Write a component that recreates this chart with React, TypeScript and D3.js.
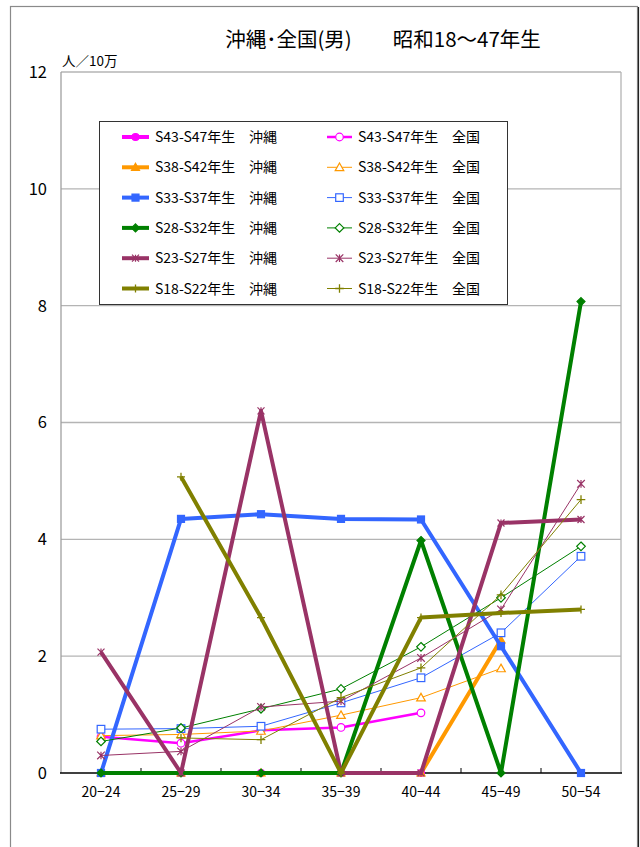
import React from 'react';
import * as d3 from 'd3';

const ages = ['20-24', '25-29', '30-34', '35-39', '40-44', '45-49', '50-54'];
const cohorts = ['S43-S47', 'S38-S42', 'S33-S37', 'S28-S32', 'S23-S27', 'S18-S22'];
const colors = ['#FF00FF', '#FF9900', '#3366FF', '#008000', '#993366', '#808000'];
const markers = ['circle', 'triangle', 'square', 'diamond', 'star', 'plus'];

const okinawa: (number | null)[][] = [
  [0, 0, 0, 0, 0, null, null],
  [0, 0, 0, 0, 0, 2.28, null],
  [0, 4.35, 4.43, 4.35, 4.34, 2.17, 0],
  [0, 0, 0, 0, 3.98, 0, 8.07],
  [2.07, 0, 6.2, 0, 0, 4.28, 4.34],
  [null, 5.07, 2.66, 0, 2.66, 2.74, 2.8],
];
const national: (number | null)[][] = [
  [0.62, 0.51, 0.73, 0.78, 1.03, null, null],
  [0.64, 0.66, 0.72, 0.99, 1.29, 1.79, null],
  [0.75, 0.76, 0.8, 1.2, 1.63, 2.4, 3.71],
  [0.54, 0.77, 1.1, 1.44, 2.16, 3.0, 3.88],
  [0.3, 0.37, 1.13, 1.23, 1.97, 2.8, 4.95],
  [null, 0.6, 0.57, 1.29, 1.8, 3.05, 4.68],
];
const yTicks = [0, 2, 4, 6, 8, 10, 12];
const title = '沖縄･全国(男)　　昭和18～47年生';
const unitLabel = '人／10万';
const okiLabel = '沖縄';
const natLabel = '全国';

const FONT = '"Noto Sans CJK JP", "Noto Sans", sans-serif';

function Marker({ type, x, y, color, filled }: { type: string; x: number; y: number; color: string; filled: boolean }) {
  const fill = filled ? color : '#fff';
  const sw = 1.2;
  const s = filled ? 3.5 : 3.8;
  switch (type) {
    case 'circle':
      return <circle cx={x} cy={y} r={s} fill={fill} stroke={color} strokeWidth={sw} />;
    case 'triangle':
      return (
        <path
          d={`M${x},${y - s - 0.5}L${x + s + 0.5},${y + s - 0.5}L${x - s - 0.5},${y + s - 0.5}Z`}
          fill={fill}
          stroke={color}
          strokeWidth={sw}
        />
      );
    case 'square':
      return <rect x={x - s} y={y - s} width={2 * s} height={2 * s} fill={fill} stroke={color} strokeWidth={sw} />;
    case 'diamond':
      return (
        <path d={`M${x},${y - s - 0.5}L${x + s + 0.5},${y}L${x},${y + s + 0.5}L${x - s - 0.5},${y}Z`} fill={fill} stroke={color} strokeWidth={sw} />
      );
    case 'star':
      return (
        <path
          d={`M${x - s},${y - s}L${x + s},${y + s}M${x - s},${y + s}L${x + s},${y - s}M${x},${y - s}L${x},${y + s}`}
          fill="none"
          stroke={color}
          strokeWidth={1.2}
        />
      );
    case 'plus':
    default:
      return (
        <path d={`M${x - s - 0.5},${y}L${x + s + 0.5},${y}M${x},${y - s - 0.5}L${x},${y + s + 0.5}`} fill="none" stroke={color} strokeWidth={1.3} />
      );
  }
}

export default function App() {
  const W = 640;
  const H = 847;
  const plot = { left: 61, right: 621, top: 72, bottom: 773 };

  const x = d3.scaleBand<string>().domain(ages).range([plot.left, plot.right]);
  const y = d3.scaleLinear().domain([0, 12]).range([plot.bottom, plot.top]);
  const cx = (a: string) => (x(a) as number) + x.bandwidth() / 2;

  const line = d3
    .line<number | null>()
    .defined((d) => d !== null)
    .x((_, i) => cx(ages[i]))
    .y((d) => y(d as number));

  const series: { values: (number | null)[]; color: string; marker: string; filled: boolean; width: number }[] = [];
  cohorts.forEach((_, i) => {
    series.push({ values: okinawa[i], color: colors[i], marker: markers[i], filled: true, width: 4 });
    series.push({ values: national[i], color: colors[i], marker: markers[i], filled: false, width: i === 0 ? 2.5 : 1 });
  });

  const boundaries = d3.range(1, ages.length).map((i) => x(ages[i]) as number);

  const legend = { x: 99, y: 121, w: 408, h: 183 };
  const rowY = (i: number) => 137 + i * 30.3;

  return (
    <svg width={W} height={H} style={{ position: 'absolute', left: 0, top: 0, background: '#fff' }} fontFamily={FONT}>
      <rect x={0} y={0} width={W} height={H} fill="#fff" />
      {/* outer frame */}
      <rect x={10.5} y={6.5} width={627} height={H + 20} fill="none" stroke="#8a8a8a" strokeWidth={1.2} />
      <line x1={638.5} y1={7} x2={638.5} y2={H} stroke="#222" strokeWidth={1.2} />

      {/* title */}
      <text x={383} y={47} textAnchor="middle" fontSize={20.5} fill="#000">
        {title}
      </text>

      {/* gridlines */}
      {yTicks.slice(1).map((t) => (
        <line key={t} x1={plot.left} x2={plot.right} y1={y(t)} y2={y(t)} stroke="#b4b4b4" strokeWidth={1.3} />
      ))}
      {/* plot borders */}
      <line x1={plot.left} x2={plot.left} y1={plot.top} y2={plot.bottom} stroke="#a0a0a0" strokeWidth={1.3} />
      <line x1={plot.right} x2={plot.right} y1={plot.top} y2={plot.bottom} stroke="#b4b4b4" strokeWidth={1.3} />
      {/* x axis */}
      <line x1={plot.left - 1} x2={plot.right + 1} y1={plot.bottom} y2={plot.bottom} stroke="#000" strokeWidth={1.3} />
      {boundaries.map((b, i) => (
        <line key={i} x1={b} x2={b} y1={plot.bottom} y2={plot.bottom - 5} stroke="#000" strokeWidth={1} />
      ))}

      {/* y labels */}
      {yTicks.map((t) => (
        <text key={t} x={47} y={y(t)} dy="0.36em" textAnchor="end" fontSize={16.5} fill="#000">
          {t}
        </text>
      ))}
      <text x={62} y={66} fontSize={13.5} fill="#000">
        {unitLabel}
      </text>

      {/* x labels */}
      {ages.map((a) => (
        <text key={a} x={cx(a)} y={797} textAnchor="middle" fontSize={14} fill="#000">
          {a.replace('-', '−')}
        </text>
      ))}

      {/* series */}
      {series.map((s, si) => (
        <g key={si}>
          <path d={line(s.values) || ''} fill="none" stroke={s.color} strokeWidth={s.width} strokeLinejoin="round" />
          {s.values.map((v, i) =>
            v === null ? null : <Marker key={i} type={s.marker} x={cx(ages[i])} y={y(v)} color={s.color} filled={s.filled} />
          )}
        </g>
      ))}

      {/* legend */}
      <rect x={legend.x + 0.5} y={legend.y + 0.5} width={legend.w} height={legend.h} fill="#fff" stroke="#333" strokeWidth={1} />
      {cohorts.map((c, i) => {
        const yy = rowY(i);
        return (
          <g key={c}>
            <line x1={122} x2={149} y1={yy} y2={yy} stroke={colors[i]} strokeWidth={4} />
            <Marker type={markers[i]} x={135.5} y={yy} color={colors[i]} filled={true} />
            <text x={155} y={yy} dy="0.36em" fontSize={14} fill="#000">
              {`${c}年生`}
            </text>
            <text x={249} y={yy} dy="0.36em" fontSize={14} fill="#000">
              {okiLabel}
            </text>
            <line x1={327} x2={352} y1={yy} y2={yy} stroke={colors[i]} strokeWidth={i === 0 ? 2.5 : 1} />
            <Marker type={markers[i]} x={339.5} y={yy} color={colors[i]} filled={false} />
            <text x={358} y={yy} dy="0.36em" fontSize={14} fill="#000">
              {`${c}年生`}
            </text>
            <text x={452} y={yy} dy="0.36em" fontSize={14} fill="#000">
              {natLabel}
            </text>
          </g>
        );
      })}
    </svg>
  );
}
